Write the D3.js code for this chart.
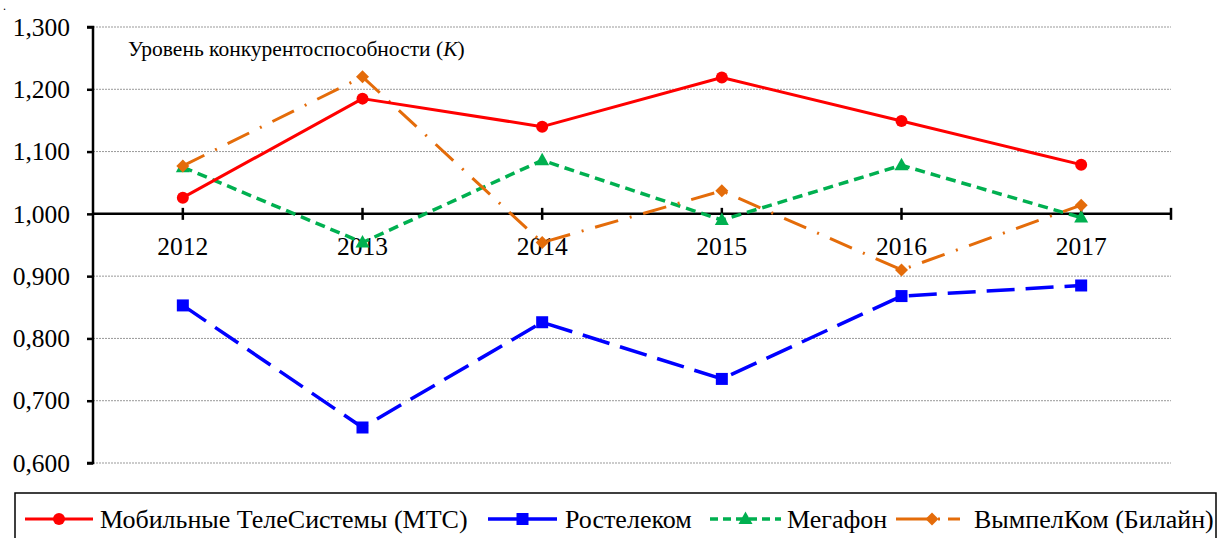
<!DOCTYPE html>
<html><head><meta charset="utf-8">
<script src="https://cdn.jsdelivr.net/npm/d3@7"></script>
<style>body{margin:0;background:#fff}svg{display:block}svg text{font-family:"Liberation Serif","Times New Roman","DejaVu Serif",serif !important;fill:#000}</style>
</head><body><svg id="c" width="1221" height="538"></svg>
<script>
const years = ["2012","2013","2014","2015","2016","2017"];
const mts = [1.026,1.185,1.140,1.219,1.149,1.079];
const rostelecom = [0.853,0.657,0.826,0.735,0.868,0.885];
const megafon = [1.075,0.954,1.086,0.990,1.078,0.994];
const vimpelcom = [1.077,1.220,0.954,1.037,0.910,1.014];
const yTicks = [0.6,0.7,0.8,0.9,1.0,1.1,1.2,1.3];
const seriesNames = ["Мобильные ТелеСистемы (МТС)","Ростелеком","Мегафон","ВымпелКом (Билайн)"];

const series = [
  {name:seriesNames[0], values:mts, color:"#FF0000", dash:null, width:3, marker:"circle"},
  {name:seriesNames[1], values:rostelecom, color:"#0000FF", dash:"28,11", width:3.5, marker:"square"},
  {name:seriesNames[2], values:megafon, color:"#00B050", dash:"10,6", width:3.5, marker:"triangle"},
  {name:seriesNames[3], values:vimpelcom, color:"#E46C0A", dash:"24,12,2,12", width:3, marker:"diamond"}
];

const svg = d3.select("#c");
const L = 93, R = 1171, T = 27, B = 463;
const x = d3.scaleBand().domain(years).range([L,R]);
const xc = d => x(d) + x.bandwidth()/2;
const y = d3.scaleLinear().domain([0.6,1.3]).range([B,T]);
const fmt = v => d3.format(".3f")(v).replace(".", ",");

// small dot artifact
svg.append("text").attr("x",3).attr("y",10).attr("font-size",12).text(".");

// gridlines
svg.append("g").selectAll("line").data(yTicks.filter(v=>v!==1.0)).join("line")
  .attr("x1",L).attr("x2",R).attr("y1",d=>y(d)).attr("y2",d=>y(d))
  .attr("stroke","#999").attr("stroke-width",1).attr("stroke-dasharray","2,1");

// y axis
const yAxis = svg.append("g").attr("transform",`translate(${L},0)`)
  .call(d3.axisLeft(y).tickValues(yTicks).tickFormat(fmt).tickSize(6).tickPadding(17));
yAxis.attr("font-family",null);
yAxis.select(".domain").attr("stroke","#000").attr("stroke-width",2.5).attr("d",`M-6,${T}H0V${B}H-6`);
yAxis.selectAll(".tick line").attr("stroke","#000").attr("stroke-width",2.5);
yAxis.selectAll(".tick text").attr("font-size",25.5);

// x axis at 1.0
const y0 = y(1.0);
const xg = svg.append("g");
xg.append("line").attr("x1",L).attr("x2",R).attr("y1",y0).attr("y2",y0).attr("stroke","#000").attr("stroke-width",2.5);
xg.selectAll("line.t").data(years).join("line").attr("class","t")
  .attr("x1",d=>xc(d)).attr("x2",d=>xc(d)).attr("y1",y0-6).attr("y2",y0+6).attr("stroke","#000").attr("stroke-width",2.5);
xg.append("line").attr("x1",R).attr("x2",R).attr("y1",y0-6).attr("y2",y0+6).attr("stroke","#000").attr("stroke-width",2.5);
xg.selectAll("text").data(years).join("text")
  .attr("x",d=>xc(d)).attr("y",y0+41).attr("text-anchor","middle").attr("font-size",25.5).text(d=>d);

// annotation
const ann = svg.append("text").attr("x",128).attr("y",56).attr("font-size",21.5);
ann.append("tspan").text("Уровень конкурентоспособности (");
ann.append("tspan").attr("font-style","italic").text("K");
ann.append("tspan").text(")");

// markers
function marker(g, type, cx, cy, color, s) {
  s = s || 1;
  if (type==="circle") g.append("circle").attr("cx",cx).attr("cy",cy).attr("r",6*s).attr("fill",color);
  else if (type==="square") g.append("rect").attr("x",cx-6*s).attr("y",cy-6*s).attr("width",12*s).attr("height",12*s).attr("fill",color);
  else if (type==="triangle") g.append("path").attr("d",`M${cx},${cy-7.5*s}L${cx+7*s},${cy+5*s}L${cx-7*s},${cy+5*s}Z`).attr("fill",color);
  else if (type==="diamond") g.append("path").attr("d",`M${cx},${cy-6.5*s}L${cx+6.5*s},${cy}L${cx},${cy+6.5*s}L${cx-6.5*s},${cy}Z`).attr("fill",color);
}

const line = d3.line().x((d,i)=>xc(years[i])).y(d=>y(d));
const drawOrder = [1,2,3,0];
drawOrder.forEach(k => {
  const s = series[k];
  const g = svg.append("g");
  g.append("path").attr("d",line(s.values)).attr("fill","none").attr("stroke",s.color)
    .attr("stroke-width",s.width).attr("stroke-dasharray",s.dash).attr("stroke-linejoin","round");
  s.values.forEach((v,i)=>marker(g,s.marker,xc(years[i]),y(v),s.color));
});

// legend
svg.append("rect").attr("x",15).attr("y",493).attr("width",1201).attr("height",60)
  .attr("fill","none").attr("stroke","#000").attr("stroke-width",1.5);
const legPos = [{x1:25,x2:93,tx:100},{x1:488,x2:557,tx:565},{x1:710,x2:781,tx:787},{x1:896,x2:968,tx:974}];
const legDash = [null,"29,11,29","8,5","34,8,2,8,12"];
const ly = 519;
series.forEach((s,k)=>{
  const p = legPos[k];
  const g = svg.append("g");
  g.append("line").attr("x1",p.x1).attr("x2",p.x2).attr("y1",ly).attr("y2",ly)
    .attr("stroke",s.color).attr("stroke-width",s.width).attr("stroke-dasharray",legDash[k]);
  marker(g,s.marker,(p.x1+p.x2)/2,ly,s.color);
  g.append("text").attr("x",p.tx).attr("y",528).attr("font-size",26).text(s.name);
});
</script></body></html>
